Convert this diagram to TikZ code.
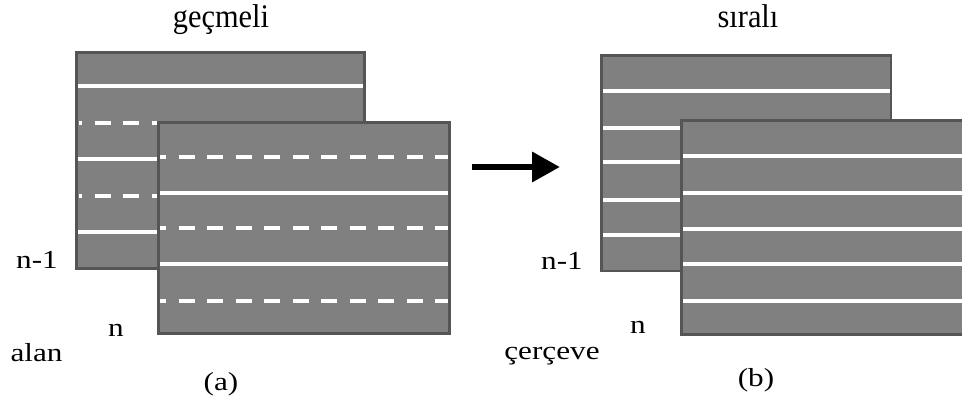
\documentclass[tikz,border=0pt]{standalone}
\usepackage{fontspec}
\setmainfont{Liberation Serif}
\usetikzlibrary{arrows.meta}
\definecolor{panel}{RGB}{128,128,128}
\definecolor{edge}{RGB}{85,85,85}
\newcommand{\widetext}[1]{\scalebox{1.2}[1]{#1}}
\newcommand{\titletext}[1]{\scalebox{0.92}[1]{#1}}
\tikzset{
 paneledge/.style={draw=edge,line width=3pt},
 solidline/.style={draw=white,line width=4pt},
 dashline/.style={draw=white,line width=4pt,dash pattern=on 16pt off 12.5pt},
 lbl/.style={font=\fontsize{26}{30}\selectfont, inner sep=0pt, anchor=base},
 ttl/.style={font=\fontsize{33}{36}\selectfont, inner sep=0pt, anchor=base},
 bigarrow/.style={draw=black,line width=6.5pt,-{Triangle[length=28pt,width=29pt]}},
}
\begin{document}
\begin{tikzpicture}[x=1pt,y=-1pt]
\useasboundingbox (0,0) rectangle (962,408);
\clip (0,0) rectangle (962,408);
\fill[white] (0,0) rectangle (962,408);
% (a) back frame n-1
\fill[panel] (75,51) rectangle (366,270);
\foreach \y in {86,159,232} \draw[solidline] (76,\y) -- (365,\y);
\foreach \y in {122.7,195.7} \draw[dashline,dash phase=13pt] (79,\y) -- (365,\y);
\draw[paneledge] (76.5,52.5) rectangle (364.5,268.5);
% (a) front frame n
\fill[panel] (157,121) rectangle (451,335);
\foreach \y in {192.7,264} \draw[solidline] (158,\y) -- (450,\y);
\foreach \y in {156.7,228,300.7} \draw[dashline,dash phase=10pt] (160,\y) -- (450,\y);
\draw[paneledge] (158.5,122.5) rectangle (449.5,333.5);
% (b) back frame n-1
\fill[panel] (600,54) rectangle (892,272);
\foreach \y in {91,127.7,162.3,200,235.3} \draw[solidline] (601,\y) -- (891,\y);
\draw[paneledge,line width=2.5pt] (601.25,55.25) rectangle (890.75,270.75);
% (b) front frame n
\fill[panel] (680,119) rectangle (975,336);
\foreach \y in {156,192.7,229,264,300.7} \draw[solidline] (681,\y) -- (975,\y);
\draw[paneledge] (681.5,120.5) rectangle (980,334.5);
% arrow
\coordinate (arrS) at (472,167);
\coordinate (arrE) at (560,167);
\draw[bigarrow] (arrS) -- (arrE);
% labels
\node[ttl] (tA) at (221,27) {\titletext{geçmeli}};
\node[ttl] (tB) at (748,27) {\titletext{sıralı}};
\node[lbl] (nmA) at (37,268) {\widetext{n-1}};
\node[lbl] (nmB) at (562,269) {\widetext{n-1}};
\node[lbl] (nA) at (116,336) {\widetext{n}};
\node[lbl] (nB) at (638,333) {\widetext{n}};
\node[lbl] (alan) at (36.5,361.5) {\widetext{alan}};
\node[lbl] (cerc) at (552,359) {\widetext{çerçeve}};
\node[lbl] (capA) at (221,390) {\widetext{(a)}};
\node[lbl] (capB) at (756,386) {\widetext{(b)}};
\end{tikzpicture}
\end{document}
